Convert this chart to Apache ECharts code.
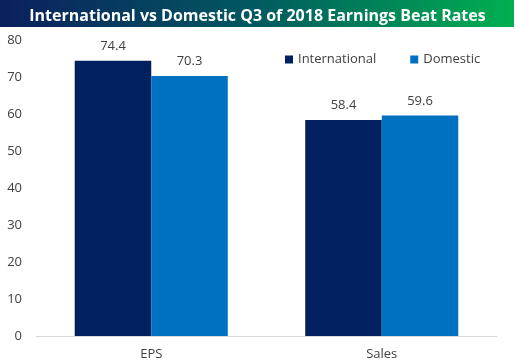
<!DOCTYPE html>
<html><head><meta charset="utf-8">
<script src="https://cdn.jsdelivr.net/npm/echarts@6/dist/echarts.min.js"></script>
<style>html,body{margin:0;padding:0;background:#fff}#c{width:515px;height:363px}</style>
</head><body><div id="c"></div>
<script>
const categories = ['EPS', 'Sales'];
const international = [74.4, 58.4];
const domestic = [70.3, 59.6];
const yTicks = [0, 10, 20, 30, 40, 50, 60, 70, 80];
const titleText = 'International vs Domestic Q3 of 2018 Earnings Beat Rates';

const chart = echarts.init(document.getElementById('c'));
const font = 'Open Sans';
const labelStyle = {show: true, position: 'top', color: '#404040', fontSize: 13, fontFamily: font, distance: 8};
chart.setOption({
  animation: false,
  graphic: [{
    type: 'rect', shape: {x: 0, y: 0, width: 514, height: 27}, silent: true,
    style: {fill: new echarts.graphic.LinearGradient(0, 0, 1, 0, [
      {offset: 0, color: '#0b1f5e'}, {offset: 0.5, color: '#015a60'}, {offset: 1, color: '#00b050'}])}
  }],
  title: {text: titleText, left: 'center', top: 3,
    textStyle: {color: '#fff', fontSize: 16, fontWeight: 'bold', fontFamily: font}},
  legend: {top: 48, left: 280, itemWidth: 8, itemHeight: 8, itemGap: 34, icon: 'rect',
    textStyle: {color: '#404040', fontSize: 13, fontFamily: font}, itemStyle: {borderWidth: 0}},
  grid: {left: 36, right: 18, top: 40, bottom: 27, containLabel: false},
  xAxis: {type: 'category', data: categories,
    axisLine: {lineStyle: {color: '#d9d9d9'}}, axisTick: {show: false},
    axisLabel: {color: '#404040', fontSize: 13, fontFamily: font, margin: 12}},
  yAxis: {type: 'value', min: yTicks[0], max: yTicks[yTicks.length - 1], interval: 10,
    splitLine: {show: false}, axisLine: {show: false}, axisTick: {show: false},
    axisLabel: {color: '#404040', fontSize: 13, fontFamily: font, margin: 14}},
  series: [
    {name: 'International', type: 'bar', data: international, barGap: '0%', barCategoryGap: '33.6%',
      itemStyle: {color: '#002060'}, label: labelStyle},
    {name: 'Domestic', type: 'bar', data: domestic,
      itemStyle: {color: '#0070c0'}, label: labelStyle}
  ]
});
</script></body></html>
